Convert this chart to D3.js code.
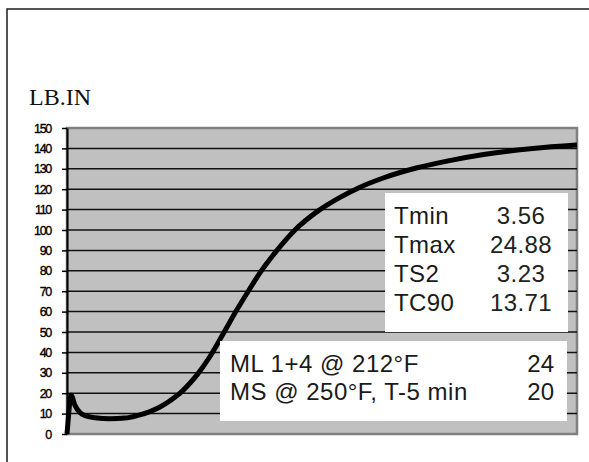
<!DOCTYPE html>
<html>
<head>
<meta charset="utf-8">
<script src="https://cdn.jsdelivr.net/npm/d3@7"></script>
<style>
  body { margin: 0; background: #fff; }
  svg { display: block; }
</style>
</head>
<body>
<div id="chart"></div>
<script>
// rheometer curve, time in minutes vs torque (LB.IN)
const timeMin = [0, 0.06, 0.24, 0.47, 0.76, 1.06, 1.65, 2.53, 3.41, 4.12, 4.88, 5.47, 6.06, 6.65, 7.24, 7.65,
    8.41, 9.18, 10.0, 10.59, 11.35, 12.35, 13.41, 14.71, 16.06, 17.24, 18.6, 20.6, 22.5, 24.5, 27.4, 30.0];
const torque = [0, 6, 19, 14, 10.5, 9, 8, 7.5, 7.8, 9, 11, 13.2, 16.3, 20, 25, 29,
    38, 49, 61, 69, 79, 90, 100, 109, 116, 121, 125.5, 130.5, 134, 137, 140, 141.7];
const yTicks = [0, 10, 20, 30, 40, 50, 60, 70, 80, 90, 100, 110, 120, 130, 140, 150];
const statLabels = ["Tmin", "Tmax", "TS2", "TC90"];
const statValues = ["3.56", "24.88", "3.23", "13.71"];
const viscLabels = ["ML 1+4 @ 212°F", "MS @ 250°F, T-5 min"];
const viscValues = ["24", "20"];

const W = 589, H = 462;
const plot = { left: 67, right: 577, top: 128, bottom: 434 };

const svg = d3.select("#chart").append("svg")
    .attr("width", W)
    .attr("height", H);

// outer frame, runs off the page on right and bottom
svg.append("rect")
    .attr("x", 7).attr("y", 9)
    .attr("width", 700).attr("height", 600)
    .attr("fill", "none")
    .attr("stroke", "#2a2a2a")
    .attr("stroke-width", 1.6);

const x = d3.scaleLinear().domain([0, 30]).range([plot.left, plot.right]);
const y = d3.scaleLinear().domain([0, 150]).range([plot.bottom, plot.top]);

// plot background + shadowed border
svg.append("rect")
    .attr("x", plot.left).attr("y", plot.top)
    .attr("width", plot.right - plot.left)
    .attr("height", plot.bottom - plot.top)
    .attr("fill", "#c0c0c0")
    .attr("stroke", "#808080")
    .attr("stroke-width", 2.5);

// gridlines
svg.append("g")
    .selectAll("line")
    .data(yTicks.filter(d => d > 0 && d < 150))
    .join("line")
    .attr("x1", plot.left).attr("x2", plot.right)
    .attr("y1", d => y(d)).attr("y2", d => y(d))
    .attr("stroke", "#111")
    .attr("stroke-width", 1.5);

// left axis
const yAxis = svg.append("g")
    .attr("transform", `translate(${plot.left},0)`)
    .call(d3.axisLeft(y).tickValues(yTicks).tickSize(5).tickSizeOuter(0).tickPadding(11));
yAxis.select(".domain").attr("stroke", "#000").attr("stroke-width", 2);
yAxis.selectAll(".tick line").attr("stroke", "#000").attr("stroke-width", 1.5);
yAxis.selectAll(".tick text")
    .attr("font-family", "Arial, 'Liberation Sans', sans-serif")
    .attr("font-size", 12.5)
    .attr("letter-spacing", -1.3)
    .attr("fill", "#000")
    .attr("stroke", "#000")
    .attr("stroke-width", 0.35);

// y label
svg.append("text")
    .attr("x", 29).attr("y", 105)
    .attr("font-family", "'Liberation Serif', 'Times New Roman', serif")
    .attr("font-size", 24)
    .attr("fill", "#111")
    .text("LB.IN");

// curve
const line = d3.line()
    .x((d, i) => x(timeMin[i]))
    .y(d => y(d))
    .curve(d3.curveMonotoneX);

svg.append("path")
    .datum(torque)
    .attr("d", line)
    .attr("fill", "none")
    .attr("stroke", "#000")
    .attr("stroke-width", 5)
    .attr("stroke-linejoin", "round");

// result boxes
const textFont = "Arial, 'Liberation Sans', sans-serif";

const box1 = svg.append("g");
box1.append("rect")
    .attr("x", 385).attr("y", 193)
    .attr("width", 183).attr("height", 139)
    .attr("fill", "#fff");
box1.selectAll("text.lab")
    .data(statLabels)
    .join("text")
    .attr("class", "lab")
    .attr("x", 394)
    .attr("y", (d, i) => 224 + i * 29)
    .attr("font-family", textFont)
    .attr("font-size", 24)
    .attr("letter-spacing", 0.4)
    .attr("fill", "#1a1a1a")
    .text(d => d);
box1.selectAll("text.val")
    .data(statValues)
    .join("text")
    .attr("class", "val")
    .attr("x", 521)
    .attr("y", (d, i) => 224 + i * 29)
    .attr("text-anchor", "middle")
    .attr("font-family", textFont)
    .attr("font-size", 24)
    .attr("letter-spacing", 0.4)
    .attr("fill", "#222")
    .text(d => d);

const box2 = svg.append("g");
box2.append("rect")
    .attr("x", 220).attr("y", 341)
    .attr("width", 347).attr("height", 80)
    .attr("fill", "#fff");
box2.selectAll("text.lab")
    .data(viscLabels)
    .join("text")
    .attr("class", "lab")
    .attr("x", 230)
    .attr("y", (d, i) => 372 + i * 28)
    .attr("font-family", textFont)
    .attr("font-size", 24)
    .attr("letter-spacing", 0.5)
    .attr("fill", "#1a1a1a")
    .text(d => d);
box2.selectAll("text.val")
    .data(viscValues)
    .join("text")
    .attr("class", "val")
    .attr("x", 554)
    .attr("y", (d, i) => 372 + i * 28)
    .attr("text-anchor", "end")
    .attr("font-family", textFont)
    .attr("font-size", 24)
    .attr("fill", "#1a1a1a")
    .text(d => d);
</script>
</body>
</html>
